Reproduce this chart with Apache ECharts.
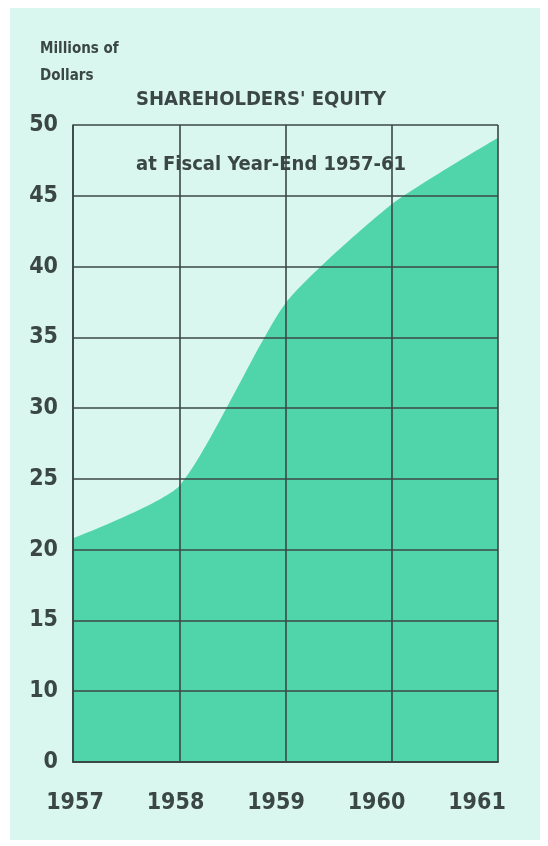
<!DOCTYPE html>
<html>
<head>
<meta charset="utf-8">
<script src="https://cdn.jsdelivr.net/npm/echarts@6/dist/echarts.min.js"></script>
<style>
  html, body { margin: 0; padding: 0; background: #ffffff; }
  #main { position: absolute; left: 10px; top: 8px; width: 530px; height: 832px; background: #d9f7ef; }
</style>
</head>
<body>
<div id="main"></div>
<script>
// fiscal years and shareholders' equity (millions of dollars)
var years = ['1957', '1958', '1959', '1960', '1961'];
var equity = [20.8, 24.5, 37.4, 44.4, 49.1];
// y axis is broken below 10: the bottom tick is labelled 0
var yTicks = [5, 10, 15, 20, 25, 30, 35, 40, 45, 50];
var yTickLabels = ['0', '10', '15', '20', '25', '30', '35', '40', '45', '50'];

var font = '"Liberation Sans Narrow", "DejaVu Sans Condensed", "DejaVu Sans", sans-serif';
var weight = 'bold condensed';
var ink = '#3b4745';

var chart = echarts.init(document.getElementById('main'), null, { renderer: 'canvas' });

var option = {
  backgroundColor: 'transparent',
  animation: false,
  title: [
    {
      text: 'Millions of\nDollars',
      left: 25, top: 23,
      textStyle: { fontFamily: font, fontSize: 15, fontWeight: weight, color: ink, lineHeight: 27 }
    },
    {
      text: "SHAREHOLDERS' EQUITY",
      left: 121, top: 77,
      textStyle: { fontFamily: font, fontSize: 20, fontWeight: weight, color: ink }
    },
    {
      text: 'at Fiscal Year-End 1957-61',
      left: 121, top: 142,
      textStyle: { fontFamily: font, fontSize: 20, fontWeight: weight, color: ink }
    }
  ],
  grid: [
    { left: 63, right: 42, top: 117, bottom: 78 },
    // year labels in the original are spaced a bit tighter than the grid
    { left: 65, right: 63, top: 117, bottom: 78 }
  ],
  xAxis: [
    {
      type: 'category',
      data: years,
      boundaryGap: false,
      z: 5,
      axisLine: { show: true, lineStyle: { color: ink, width: 2 } },
      axisTick: { show: false },
      axisLabel: { show: false },
      splitLine: { show: true, lineStyle: { color: ink, width: 1.6 } }
    },
    {
      type: 'category',
      gridIndex: 1,
      data: years,
      boundaryGap: false,
      axisLine: { show: false },
      axisTick: { show: false },
      axisLabel: { margin: 30, fontFamily: font, fontSize: 23, fontWeight: weight, color: ink },
      splitLine: { show: false }
    }
  ],
  yAxis: [
    {
      type: 'value',
      min: 5,
      max: 50,
      interval: 5,
      z: 5,
      axisLine: { show: true, lineStyle: { color: ink, width: 1.6 } },
      axisTick: { show: false },
      axisLabel: {
        margin: 15,
        fontFamily: font, fontSize: 23, fontWeight: weight, color: ink,
        formatter: function (v) {
          var i = yTicks.indexOf(v);
          return i >= 0 ? yTickLabels[i] : '';
        }
      },
      splitLine: { show: true, lineStyle: { color: ink, width: 1.6 } }
    },
    {
      type: 'value',
      gridIndex: 1,
      min: 5,
      max: 50,
      show: false
    }
  ],
  series: [{
    type: 'line',
    data: equity,
    smooth: 0.2,
    symbol: 'none',
    lineStyle: { width: 0 },
    areaStyle: { color: '#4fd5a9', opacity: 1 },
    z: 1
  }]
};

chart.setOption(option);
</script>
</body>
</html>
